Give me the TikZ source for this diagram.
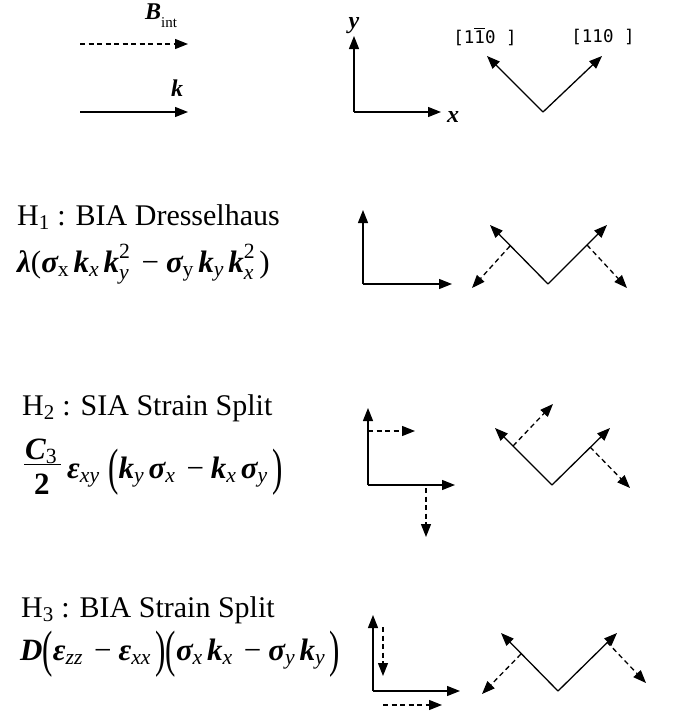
\RequirePackage{fix-cm}
\documentclass[tikz,border=0pt]{standalone}
\usepackage{amsmath}
\usepackage{graphicx}
\usepackage{fontspec}
\setmainfont{Liberation Serif}
\newfontfamily\monofnt{DejaVu Sans Mono}
\usetikzlibrary{arrows.meta}
\newcommand\bI[1]{\text{\bfseries\itshape #1}}
\newcommand\iT[1]{\text{\mdseries\itshape #1}}
\newcommand\rM[1]{\text{\mdseries\upshape #1}}
\newcommand\mN{\mathbin{\text{\mdseries\upshape −}}}
\newcommand\gp{\mkern2.5mu}
\newcommand\tallL{\raisebox{-0.21em}{\scalebox{1}[1.65]{(}}}
\newcommand\tallR{\raisebox{-0.21em}{\scalebox{1}[1.65]{)}}}
\tikzset{
  arr/.style={-{Triangle[length=13pt,width=10pt]}, line width=1.3pt},
  darr/.style={arr, dash pattern=on 5pt off 3.5pt},
  hdr/.style={anchor=base west, inner sep=0pt, font=\fontsize{30}{32}\selectfont},
  eqn/.style={anchor=base west, inner sep=0pt, font=\fontsize{31}{33}\selectfont},
  lab/.style={anchor=base west, inner sep=0pt, font=\fontsize{24}{26}\selectfont},
  miller/.style={inner sep=0pt, font=\monofnt\fontsize{17.5}{19}\selectfont}
}
\begin{document}
\begin{tikzpicture}[x=1pt,y=-1pt]
\useasboundingbox[fill=white] (0,0) rectangle (673,715);

% ---- top legend ----
\draw[darr] (80,44) -- (188,44);
\draw[arr] (80,112) -- (188,112);
\node[lab] (bint) at (145,19) {\bfseries\itshape B\mdseries\upshape\raisebox{-0.35em}{\fontsize{15}{16}\selectfont int}};
\node[lab] (klab) at (171,96) {\bfseries\itshape k};

\coordinate (o0) at (354,112);
\draw[arr] (o0) -- (354,36);
\draw[arr] (o0) -- (441,112);
\node[lab, anchor=base] (ylab) at (354,28) {\bfseries\itshape y};
\node[lab] (xlab) at (447,122) {\bfseries\itshape x};

\coordinate (v0) at (543,112);
\draw[arr] (v0) -- (487,56);
\draw[arr] (v0) -- (602,56);
\node[miller] (m1) at (485,37) {[1$\overline{\hbox{1}}$0 ]};
\node[miller] (m2) at (603,37) {[110 ]};

% ---- H1 ----
\node[hdr] (h1) at (17,225) {$\rM{H}_{\rM{1}}$ : BIA Dresselhaus};
\node[eqn] (e1) at (17,272) {$\bI{λ}\rM{(}\bI{σ}_{\rM{x}}\gp\bI{k}_{\iT{x}}\gp\bI{k}_{\iT{y}}^{\rM{2}}\gp\mN\bI{σ}_{\rM{y}}\gp\bI{k}_{\iT{y}}\gp\bI{k}_{\iT{x}}^{\rM{2}}\gp\rM{)}$};

\coordinate (o1) at (363,284);
\draw[arr] (o1) -- (363,210);
\draw[arr] (o1) -- (452,284);
\coordinate (v1) at (548,284);
\draw[arr] (v1) -- (490,225);
\draw[arr] (v1) -- (607,225);
\draw[darr] (510,246) -- (472,288);
\draw[darr] (587,245) -- (627,288);

% ---- H2 ----
\node[hdr] (h2) at (22,415) {$\rM{H}_{\rM{2}}$ : SIA Strain Split};
\node[eqn] (f2num) at (25,459) {$\bI{C}_{\rM{3}}$};
\draw[line width=0.9pt] (24,464) -- (61,464);
\node[eqn, anchor=base] (f2den) at (42,494) {\bfseries 2};
\node[eqn] (e2) at (67,478) {$\bI{ε}_{\iT{xy}}\mkern5mu\text{\tallL}\bI{k}_{\iT{y}}\gp\bI{σ}_{\iT{x}}\gp\mN\bI{k}_{\iT{x}}\gp\bI{σ}_{\iT{y}}\gp\text{\tallR}$};

\coordinate (o2) at (368,485);
\draw[arr] (o2) -- (368,408);
\draw[arr] (o2) -- (455,485);
\draw[darr] (368,431) -- (415,431);
\draw[darr] (426,488) -- (426,537);
\coordinate (v2) at (552,485);
\draw[arr] (v2) -- (495,428);
\draw[arr] (v2) -- (610,428);
\draw[darr] (513,446) -- (553,404);
\draw[darr] (590,447) -- (630,488);

% ---- H3 ----
\node[hdr] (h3) at (21,617) {$\rM{H}_{\rM{3}}$ : BIA Strain Split};
\node[eqn] (e3) at (20,660) {$\bI{D}\text{\tallL}\bI{ε}_{\iT{zz}}\gp\mN\bI{ε}_{\iT{xx}}\gp\text{\tallR\tallL}\bI{σ}_{\iT{x}}\gp\bI{k}_{\iT{x}}\gp\mN\bI{σ}_{\iT{y}}\gp\bI{k}_{\iT{y}}\gp\text{\tallR}$};

\coordinate (o3) at (373,691);
\draw[arr] (o3) -- (373,615);
\draw[arr] (o3) -- (460,691);
\draw[darr] (383,627) -- (383,676);
\draw[darr] (383,705) -- (442,705);
\coordinate (v3) at (558,691);
\draw[arr] (v3) -- (501,633);
\draw[arr] (v3) -- (617,633);
\draw[darr] (521,654) -- (482,694);
\draw[darr] (607,642) -- (646,683);
\end{tikzpicture}
\end{document}
